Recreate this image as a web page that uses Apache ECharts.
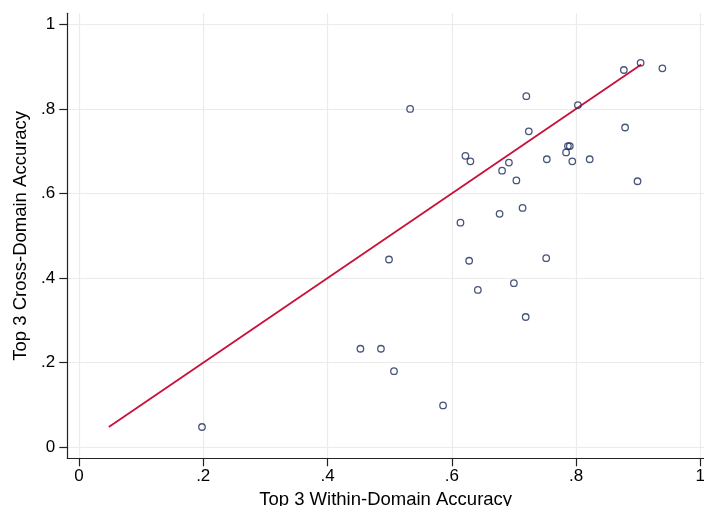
<!DOCTYPE html>
<html>
<head>
<meta charset="utf-8">
<script src="https://cdn.jsdelivr.net/npm/echarts@6/dist/echarts.min.js"></script>
<style>html,body{margin:0;padding:0;background:#fff}#c{width:704px;height:506px}</style>
</head>
<body>
<div id="c"></div>
<script>
// Top 3 within-domain accuracy (x) and cross-domain accuracy (y)
const withinAcc = [0.198,0.453,0.486,0.507,0.499,0.533,0.586,0.614,0.622,0.630,0.628,0.642,0.677,0.681,0.692,0.704,0.700,0.714,0.719,0.720,0.724,0.752,0.753,0.784,0.787,0.790,0.794,0.803,0.822,0.877,0.879,0.899,0.904,0.939];
const crossAcc  = [0.048,0.233,0.233,0.180,0.444,0.800,0.099,0.531,0.689,0.676,0.441,0.372,0.552,0.654,0.673,0.631,0.388,0.566,0.308,0.830,0.747,0.447,0.681,0.697,0.712,0.712,0.676,0.809,0.681,0.892,0.756,0.629,0.909,0.896];
// 45-degree reference line range (y = x)
const refLineX = [0.048, 0.905];
const tickValues = [0, 0.2, 0.4, 0.6, 0.8, 1];

const fmt = v => (v === 0 ? '0' : v === 1 ? '1' : String(+v.toFixed(1)).replace(/^0\./, '.'));
const font = '"Liberation Sans", Arial, sans-serif';

const chart = echarts.init(document.getElementById('c'), null, {renderer: 'canvas'});
const axisCommon = {
  axisLine: {show: true, onZero: false, lineStyle: {color: '#222', width: 1.2}},
  axisTick: {show: true, length: 8, inside: false, customValues: tickValues, lineStyle: {color: '#222', width: 1.2}},
  axisLabel: {customValues: tickValues, formatter: fmt, color: '#000', fontSize: 17, fontFamily: font},
  splitLine: {show: true, lineStyle: {color: '#ebebeb', width: 1.2}},
  nameLocation: 'middle',
  nameTextStyle: {color: '#000', fontSize: 18.5, fontFamily: font}
};
chart.setOption({
  animation: false,
  backgroundColor: '#fff',
  grid: {left: 67.3, right: 0, top: 13.3, bottom: 47.7, containLabel: false, outerBoundsMode: 'none'},
  xAxis: Object.assign({}, axisCommon, {
    type: 'value', min: -0.0188, max: 1.006,
    name: 'Top 3 Within-Domain Accuracy', nameGap: 30,
    axisLabel: Object.assign({}, axisCommon.axisLabel, {margin: 10})
  }),
  yAxis: Object.assign({}, axisCommon, {
    type: 'value', min: -0.026, max: 1.026,
    name: 'Top 3 Cross-Domain Accuracy', nameGap: 36,
    axisLabel: Object.assign({}, axisCommon.axisLabel, {margin: 12})
  }),
  series: [
    {
      type: 'line',
      data: refLineX.map(v => [v, v]),
      symbol: 'none',
      lineStyle: {color: '#c8103a', width: 1.8},
      z: 2
    },
    {
      type: 'scatter',
      data: withinAcc.map((x, i) => [x, crossAcc[i]]),
      symbol: 'circle',
      symbolSize: 6.5,
      itemStyle: {color: 'rgba(255,255,255,0)', borderColor: '#1a2a5a', borderWidth: 1.3},
      z: 3
    }
  ]
});
</script>
</body>
</html>
